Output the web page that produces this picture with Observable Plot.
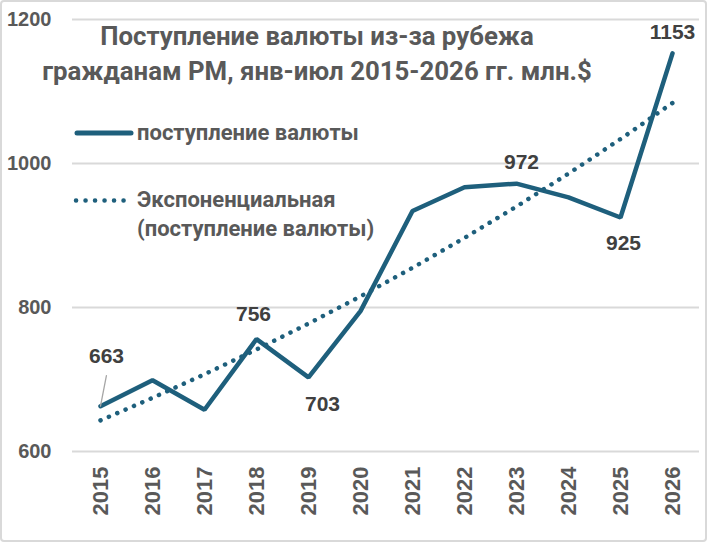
<!DOCTYPE html>
<html>
<head>
<meta charset="utf-8">
<script src="https://cdn.jsdelivr.net/npm/d3@7"></script>
<script src="https://cdn.jsdelivr.net/npm/@observablehq/plot@0.6"></script>
<style>
  html, body { margin: 0; padding: 0; background: #fff; }
  #wrap { position: relative; width: 707px; height: 542px; overflow: hidden; background: #fff; }
  #frame { position: absolute; left: 0; top: 0; width: 703px; height: 538px; border: 2px solid #d9d9d9; border-radius: 4px; pointer-events: none; }
  #title { position: absolute; left: 0; width: 634px; top: 19px; text-align: center;
           font-family: Roboto, "Noto Sans", sans-serif; font-weight: 700; font-size: 25.8px; line-height: 35px; color: #595959; }
  .leg { position: absolute; font-family: Roboto, "Noto Sans", sans-serif; font-weight: 700; font-size: 22px; line-height: 29px; color: #595959; }
</style>
</head>
<body>
<div id="wrap">
  <div id="chart"></div>
  <div id="title">Поступление валюты из-за рубежа<br>гражданам РМ, янв-июл 2015-2026 гг. млн.$</div>
  <div class="leg" style="left:137px; top:118px;">поступление валюты</div>
  <div class="leg" style="left:137px; top:185px;">Экспоненциальная<br>(поступление валюты)</div>
  <svg id="legsym" style="position:absolute;left:0;top:0" width="707" height="542"></svg>
  <div id="frame"></div>
</div>
<script>
const years = [2015, 2016, 2017, 2018, 2019, 2020, 2021, 2022, 2023, 2024, 2025, 2026];
const values = [663, 699, 658, 756, 703, 795, 934, 967, 972, 953, 925, 1153];
const yTicks = [600, 800, 1000, 1200];
const seriesName = "поступление валюты";
const trendName = "Экспоненциальная (поступление валюты)";
const color = "#1e5f7c";

// Exponential trendline (least squares on log values, as in Excel)
const xs = years.map((_, i) => i);
const logs = values.map(v => Math.log(v));
const mx = d3.mean(xs), ml = d3.mean(logs);
const slope = d3.sum(xs, (x, i) => (x - mx) * (logs[i] - ml)) / d3.sum(xs, x => (x - mx) ** 2);
const intercept = ml - slope * mx;
const trend = years.map((year, i) => ({year, value: Math.exp(intercept + slope * i)}));

const data = years.map((year, i) => ({year, value: values[i]}));
const lab = y => data.filter(d => d.year === y);

const labelStyle = {x: "year", y: "value", text: d => String(d.value), fill: "#404040",
  fontSize: 21, fontWeight: "bold", fontFamily: "'Liberation Sans', Arial, sans-serif"};

const chart = Plot.plot({
  width: 707,
  height: 542,
  marginTop: 19,
  marginBottom: 91,
  marginLeft: 72,
  marginRight: 8,
  style: {background: "transparent", overflow: "visible"},
  x: {type: "point", domain: years, padding: 0.5},
  y: {domain: [600, 1200]},
  marks: [
    Plot.gridY(yTicks, {stroke: "#d9d9d9", strokeOpacity: 1, strokeWidth: 2}),
    Plot.axisY(yTicks, {tickSize: 0, tickPadding: 21, fontSize: 20, fontWeight: "bold",
      fill: "#595959", fontFamily: "'Liberation Sans', Arial, sans-serif", label: null, tickFormat: d => String(d)}),
    Plot.axisX({tickSize: 0, tickPadding: 15, tickRotate: -90, fontSize: 22, fontWeight: "bold",
      fill: "#595959", fontFamily: "'Liberation Sans', Arial, sans-serif", label: null, tickFormat: d => String(d)}),
    Plot.line(trend, {x: "year", y: "value", stroke: color, strokeWidth: 4.5,
      strokeDasharray: "0.1 9", strokeLinecap: "round"}),
    Plot.line(data, {x: "year", y: "value", stroke: color, strokeWidth: 4.5, strokeLinejoin: "miter"}),
    Plot.vector(lab(2015), {x: "year", y: "value", length: 31, rotate: 11, anchor: "start",
      stroke: "#a6a6a6", strokeWidth: 1.3,
      shape: {draw(ctx, l) { ctx.moveTo(0, 0); ctx.lineTo(0, -l); }}}),
    Plot.text(lab(2015), {...labelStyle, dx: 6, dy: -50}),
    Plot.text(lab(2018), {...labelStyle, dx: -3, dy: -25}),
    Plot.text(lab(2019), {...labelStyle, dx: 14, dy: 27}),
    Plot.text(lab(2023), {...labelStyle, dx: 5, dy: -21}),
    Plot.text(lab(2025), {...labelStyle, dx: 3, dy: 26}),
    Plot.text(lab(2026), {...labelStyle, dx: 0, dy: -21})
  ]
});
document.getElementById("chart").appendChild(chart);

// legend symbols
const leg = d3.select("#legsym");
leg.append("line").attr("x1", 77).attr("x2", 131).attr("y1", 133).attr("y2", 133)
  .attr("stroke", color).attr("stroke-width", 5).attr("stroke-linecap", "round");
leg.append("line").attr("x1", 76).attr("x2", 124).attr("y1", 200.5).attr("y2", 200.5)
  .attr("stroke", color).attr("stroke-width", 4.5).attr("stroke-linecap", "round")
  .attr("stroke-dasharray", "0.1 9.4");
</script>
</body>
</html>
